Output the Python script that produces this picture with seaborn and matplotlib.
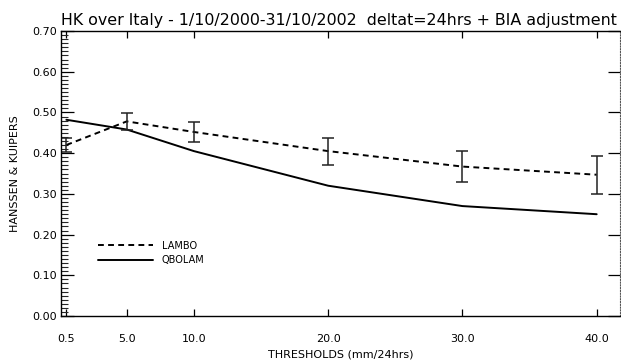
import numpy as np
import pandas as pd
import matplotlib
matplotlib.use("Agg")
import matplotlib.pyplot as plt
from matplotlib.ticker import MultipleLocator, FixedLocator
import seaborn as sns

# ---- data ----
thresholds = [0.5, 5.0, 10.0, 20.0, 30.0, 40.0]
tick_labels = ["0.5", "5.0", "10.0", "20.0", "30.0", "40.0"]
lambo = [0.420, 0.478, 0.452, 0.405, 0.367, 0.347]
lambo_err = [0.018, 0.021, 0.025, 0.033, 0.039, 0.047]
qbolam = [0.482, 0.458, 0.405, 0.320, 0.270, 0.250]
title = "HK over Italy - 1/10/2000-31/10/2002  deltat=24hrs + BIA adjustment"

df = pd.DataFrame({
    "threshold": thresholds * 2,
    "hk": lambo + qbolam,
    "model": ["LAMBO"] * len(thresholds) + ["QBOLAM"] * len(thresholds),
})

sns.set_theme(style="white")
plt.rcParams["font.family"] = ["DejaVu Sans"]

fig = plt.figure(figsize=(6.21, 3.63), dpi=100)
ax = fig.add_axes([61 / 621, 47 / 363, (619.5 - 61) / 621, (332 - 47) / 363])

sns.lineplot(data=df, x="threshold", y="hk", style="model",
             dashes={"LAMBO": (3, 2.2), "QBOLAM": ""},
             color="black", linewidth=1.4, ax=ax, legend=True)

ax.errorbar(thresholds, lambo, yerr=lambo_err, fmt="none", ecolor="#222222",
            elinewidth=1.1, capsize=4.5, capthick=1.1)

ax.set_xlim(0.1, 41.7)
ax.set_ylim(0.0, 0.70)

ax.xaxis.set_major_locator(FixedLocator(thresholds))
ax.set_xticks(thresholds)
ax.set_xticklabels(tick_labels)
ax.yaxis.set_major_locator(MultipleLocator(0.1))
ax.yaxis.set_minor_locator(MultipleLocator(0.01))
ax.set_yticklabels([f"{v:.2f}" for v in ax.get_yticks()])

ax.tick_params(axis="x", which="major", direction="in", length=5, width=0.9,
               top=True, bottom=True, labelsize=8, pad=13, colors="black")
ax.tick_params(axis="y", which="major", direction="in", length=9, width=0.9,
               left=True, right=True, labelsize=8, pad=3, colors="black")
ax.tick_params(axis="y", which="minor", direction="in", length=5, width=0.8,
               left=True, right=False)

for side in ["left", "bottom", "top"]:
    ax.spines[side].set_color("black")
    ax.spines[side].set_linewidth(1.0)
ax.spines["right"].set_color("#555555")
ax.spines["right"].set_linewidth(0.8)
ax.spines["right"].set_linestyle((0, (1, 1.5)))

ax.set_xlabel("THRESHOLDS (mm/24hrs)", fontsize=8, labelpad=4, color="black")
ax.set_ylabel("HANSSEN & KUIPERS", fontsize=8, labelpad=9, color="black")
ax.set_title(title, loc="left", fontsize=11.4, pad=4, color="black")

leg = ax.legend(loc="lower left", bbox_to_anchor=(0.06, 0.165), frameon=False,
                fontsize=7, handlelength=5.6, handletextpad=0.9,
                labelspacing=0.45, borderaxespad=0)
for t in leg.get_texts():
    t.set_color("black")

fig.savefig("out.png", dpi=100)
